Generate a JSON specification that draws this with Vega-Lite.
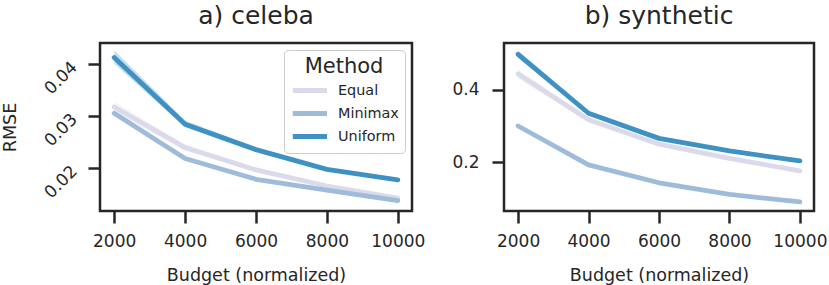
{
  "$schema": "https://vega.github.io/schema/vega-lite/v6.json",
  "padding": {"left": 0, "top": 2, "right": 0, "bottom": 0},
  "background": "white",
  "datasets": {
    "celeba": [
      {"budget": 2000, "method": "Equal", "rmse": 0.0318, "lo": 0.0308, "hi": 0.0328},
      {"budget": 4000, "method": "Equal", "rmse": 0.0240, "lo": 0.0234, "hi": 0.0246},
      {"budget": 6000, "method": "Equal", "rmse": 0.0197, "lo": 0.0193, "hi": 0.0201},
      {"budget": 8000, "method": "Equal", "rmse": 0.0166, "lo": 0.0163, "hi": 0.0169},
      {"budget": 10000, "method": "Equal", "rmse": 0.0143, "lo": 0.0141, "hi": 0.0146},
      {"budget": 2000, "method": "Minimax", "rmse": 0.0306, "lo": 0.0301, "hi": 0.0311},
      {"budget": 4000, "method": "Minimax", "rmse": 0.0219, "lo": 0.0215, "hi": 0.0222},
      {"budget": 6000, "method": "Minimax", "rmse": 0.0179, "lo": 0.0176, "hi": 0.0181},
      {"budget": 8000, "method": "Minimax", "rmse": 0.0158, "lo": 0.0156, "hi": 0.0160},
      {"budget": 10000, "method": "Minimax", "rmse": 0.0138, "lo": 0.0136, "hi": 0.0140},
      {"budget": 2000, "method": "Uniform", "rmse": 0.0413, "lo": 0.0401, "hi": 0.0427},
      {"budget": 4000, "method": "Uniform", "rmse": 0.0285, "lo": 0.0279, "hi": 0.0292},
      {"budget": 6000, "method": "Uniform", "rmse": 0.0236, "lo": 0.0232, "hi": 0.0240},
      {"budget": 8000, "method": "Uniform", "rmse": 0.0198, "lo": 0.0195, "hi": 0.0201},
      {"budget": 10000, "method": "Uniform", "rmse": 0.0178, "lo": 0.0176, "hi": 0.0180}
    ],
    "synthetic": [
      {"budget": 2000, "method": "Equal", "rmse": 0.443, "lo": 0.430, "hi": 0.456},
      {"budget": 4000, "method": "Equal", "rmse": 0.317, "lo": 0.311, "hi": 0.323},
      {"budget": 6000, "method": "Equal", "rmse": 0.250, "lo": 0.246, "hi": 0.254},
      {"budget": 8000, "method": "Equal", "rmse": 0.211, "lo": 0.208, "hi": 0.214},
      {"budget": 10000, "method": "Equal", "rmse": 0.177, "lo": 0.175, "hi": 0.179},
      {"budget": 2000, "method": "Minimax", "rmse": 0.300, "lo": 0.297, "hi": 0.303},
      {"budget": 4000, "method": "Minimax", "rmse": 0.193, "lo": 0.191, "hi": 0.195},
      {"budget": 6000, "method": "Minimax", "rmse": 0.144, "lo": 0.142, "hi": 0.146},
      {"budget": 8000, "method": "Minimax", "rmse": 0.112, "lo": 0.111, "hi": 0.113},
      {"budget": 10000, "method": "Minimax", "rmse": 0.0913, "lo": 0.090, "hi": 0.092},
      {"budget": 2000, "method": "Uniform", "rmse": 0.497, "lo": 0.487, "hi": 0.507},
      {"budget": 4000, "method": "Uniform", "rmse": 0.335, "lo": 0.330, "hi": 0.340},
      {"budget": 6000, "method": "Uniform", "rmse": 0.266, "lo": 0.262, "hi": 0.270},
      {"budget": 8000, "method": "Uniform", "rmse": 0.2315, "lo": 0.229, "hi": 0.234},
      {"budget": 10000, "method": "Uniform", "rmse": 0.204, "lo": 0.202, "hi": 0.206}
    ]
  },
  "bounds": "flush",
  "spacing": 92,
  "resolve": {"scale": {"color": "independent", "y": "independent"}, "legend": {"color": "independent"}},
  "hconcat": [
    {
      "width": 312,
      "height": 168,
      "data": {"name": "celeba"},
      "title": {"text": "a) celeba"},
      "layer": [
        {
          "mark": {"type": "area", "opacity": 0.3},
          "encoding": {
            "x": {"field": "budget", "type": "quantitative", "scale": {"domain": [1600, 10400], "nice": false, "zero": false},
                  "axis": {"title": "Budget (normalized)", "values": [2000, 4000, 6000, 8000, 10000], "format": "d"}},
            "y": {"field": "lo", "type": "quantitative", "scale": {"domain": [0.0118, 0.0441], "nice": false, "zero": false},
                  "axis": {"title": "RMSE", "values": [0.02, 0.03, 0.04], "format": ".2f", "labelAngle": -45, "labelAlign": "right", "labelBaseline": "middle", "labelPadding": 14, "titlePadding": 21}},
            "y2": {"field": "hi"},
            "color": {"field": "method", "type": "nominal",
                      "scale": {"domain": ["Equal", "Minimax", "Uniform"], "range": ["#dadaeb", "#9ebcda", "#3e92c3"]},
                      "legend": {"title": "Method", "orient": "top-right", "offset": 7, "symbolType": "M-1,0H5", "symbolSize": 130, "symbolStrokeWidth": 5, "symbolOpacity": 1, "labelOffset": 31,
                                 "fillColor": "rgba(255,255,255,0.85)", "strokeColor": "#cccccc", "cornerRadius": 4, "padding": 6,
                                 "titleFontSize": 21, "titleFontWeight": "normal", "titleColor": "#262626", "titleAnchor": "middle", "titlePadding": 5,
                                 "labelFontSize": 14.4, "labelColor": "#262626", "rowPadding": 2}}
          }
        },
        {
          "mark": {"type": "line", "strokeWidth": 4.8, "strokeCap": "round", "strokeJoin": "round"},
          "encoding": {
            "x": {"field": "budget", "type": "quantitative"},
            "y": {"field": "rmse", "type": "quantitative"},
            "color": {"field": "method", "type": "nominal",
                      "legend": {"title": "Method", "orient": "top-right", "offset": 7, "symbolType": "M-1,0H5", "symbolSize": 130, "symbolStrokeWidth": 5, "symbolOpacity": 1, "labelOffset": 31,
                                 "fillColor": "rgba(255,255,255,0.85)", "strokeColor": "#cccccc", "cornerRadius": 4, "padding": 6,
                                 "titleFontSize": 21, "titleFontWeight": "normal", "titleColor": "#262626", "titleAnchor": "middle", "titlePadding": 5,
                                 "labelFontSize": 14.4, "labelColor": "#262626", "rowPadding": 2}}
          }
        }
      ]
    },
    {
      "width": 310,
      "height": 168,
      "data": {"name": "synthetic"},
      "title": {"text": "b) synthetic"},
      "layer": [
        {
          "mark": {"type": "area", "opacity": 0.3},
          "encoding": {
            "x": {"field": "budget", "type": "quantitative", "scale": {"domain": [1600, 10400], "nice": false, "zero": false},
                  "axis": {"title": "Budget (normalized)", "values": [2000, 4000, 6000, 8000, 10000], "format": "d"}},
            "y": {"field": "lo", "type": "quantitative", "scale": {"domain": [0.0665, 0.528], "nice": false, "zero": false},
                  "axis": {"title": null, "values": [0.2, 0.4], "format": ".1f", "labelPadding": 13}},
            "y2": {"field": "hi"},
            "color": {"field": "method", "type": "nominal",
                      "scale": {"domain": ["Equal", "Minimax", "Uniform"], "range": ["#dadaeb", "#9ebcda", "#3e92c3"]},
                      "legend": null}
          }
        },
        {
          "mark": {"type": "line", "strokeWidth": 4.8, "strokeCap": "round", "strokeJoin": "round"},
          "encoding": {
            "x": {"field": "budget", "type": "quantitative"},
            "y": {"field": "rmse", "type": "quantitative"},
            "color": {"field": "method", "type": "nominal", "legend": null}
          }
        }
      ]
    }
  ],
  "config": {
    "font": "DejaVu Sans",
    "view": {"stroke": "#262626", "strokeWidth": 2.5},
    "title": {"fontSize": 25, "fontWeight": "normal", "color": "#262626", "offset": 14, "anchor": "middle"},
    "axis": {
      "domain": false, "grid": false,
      "tickColor": "#262626", "tickWidth": 2.5, "tickSize": 12,
      "labelFont": "DejaVu Sans", "labelFontSize": 17, "labelColor": "#262626",
      "titleFont": "DejaVu Sans", "titleFontSize": 17.5, "titleFontWeight": "normal", "titleColor": "#262626"
    },
    "axisX": {"labelPadding": 10, "titlePadding": 17}
  }
}
